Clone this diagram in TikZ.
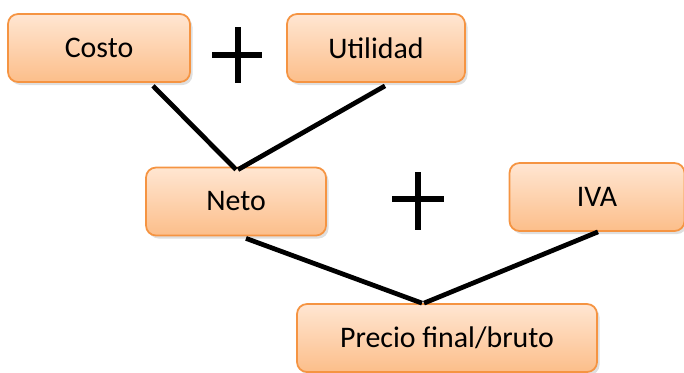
\documentclass[tikz,border=0pt]{standalone}
\usepackage{fontspec}
\setmainfont{Carlito}
\usepackage{tikz}
\usetikzlibrary{positioning, calc, shadows}
\usepackage{xcolor}
\definecolor{boxtop}{RGB}{255,230,210}
\definecolor{boxbottom}{RGB}{252,190,138}
\definecolor{boxborder}{RGB}{245,148,66}
\tikzstyle{amount} = [rectangle, rounded corners=0.2cm, minimum width=3.6cm, minimum height=1.36cm, text centered, draw=boxborder, line width=1pt, top color=boxtop, bottom color=boxbottom, drop shadow={opacity=0.25, shadow xshift=0.05cm, shadow yshift=-0.06cm}, font=\fontsize{17}{20}\selectfont]
\tikzstyle{link} = [line width=2.7pt, black]
\tikzstyle{plusbar} = [line width=3.4pt, black]

\begin{document}
\begin{tikzpicture}

\useasboundingbox (0,0) rectangle (13.68,-7.44);

% First sum
\node[amount, minimum width=3.64cm] (costo) at (1.98,-0.96) {Costo};
\node[amount, minimum width=3.56cm] (utilidad) at (7.52,-0.96) {Utilidad};
\draw[plusbar] (4.24,-1.1) -- (5.24,-1.1);
\draw[plusbar] (4.76,-0.54) -- (4.76,-1.66);

% Second sum
\node[amount] (neto) at (4.72,-4.03) {Neto};
\node[amount, minimum width=3.5cm] (iva) at (11.94,-3.94) {IVA};
\draw[plusbar] (7.84,-3.98) -- (8.88,-3.98);
\draw[plusbar] (8.36,-3.44) -- (8.36,-4.6);

% Result
\node[amount, minimum width=6cm] (precio) at (8.94,-6.76) {Precio final/bruto};

% Connections
\draw[link] ([xshift=1.08cm, yshift=-0.06cm]costo.south) -- ([yshift=-0.06cm]neto.north);
\draw[link] ([xshift=0.18cm, yshift=-0.06cm]utilidad.south) -- ([xshift=0.04cm, yshift=-0.06cm]neto.north);
\draw[link] ([xshift=0.2cm, yshift=-0.04cm]neto.south) -- ([xshift=-0.5cm]precio.north);
\draw[link] ([xshift=0.02cm]iva.south) -- ([xshift=-0.46cm]precio.north);

\end{tikzpicture}
\end{document}
